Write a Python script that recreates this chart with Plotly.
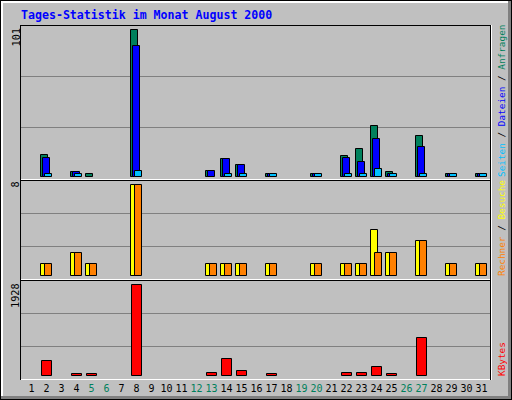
import plotly.graph_objects as go

# ---------------- data ----------------
days = list(range(1, 32))
weekend_days = [5, 6, 12, 13, 19, 20, 26, 27]

hits   = [None, 15, None, 3, 2, None, None, 101, None, None, None, None, 4, 12, 8, None,
          2, None, None, 2, None, 14, 19, 35, 3, None, 28, None, 2, None, 2]
files  = [None, 13, None, 3, None, None, None, 90, None, None, None, None, 4, 12, 8, None,
          2, None, None, 2, None, 13, 10, 26, 2, None, 20, None, 2, None, 2]
pages  = [None, 2, None, 2, None, None, None, 4, None, None, None, None, None, 2, 2, None,
          2, None, None, 2, None, 2, 2, 5, 2, None, 2, None, 2, None, 2]
visits = [None, 1, None, 2, 1, None, None, 8, None, None, None, None, 1, 1, 1, None,
          1, None, None, 1, None, 1, 1, 4, 2, None, 3, None, 1, None, 1]
sites  = [None, 1, None, 2, 1, None, None, 8, None, None, None, None, 1, 1, 1, None,
          1, None, None, 1, None, 1, 1, 2, 2, None, 3, None, 1, None, 1]
kbytes = [None, 310, None, 30, 30, None, None, 1928, None, None, None, None, 53, 350, 95, None,
          30, None, None, None, None, 53, 53, 180, 30, None, 795, None, None, None, None]

title_text = "Tages-Statistik im Monat August 2000"
max_hits_label = "101"
max_visits_label = "8"
max_kbytes_label = "1928"

# ---------------- helpers (pixel -> paper) ----------------
W, H = 512, 400
def px(x):
    return x / W
def py(y):
    return 1 - y / H

C_HITS, C_FILES, C_PAGES = "#00805C", "#0000FF", "#00C0FF"
C_VISITS, C_SITES, C_KB = "#FFFF00", "#FF8000", "#FF0000"
BG = "#C0C0C0"
GRID = "#808080"
MONO = "DejaVu Sans Mono"

DAY = 15.0  # pixels per day

def bar(vals, color, yaxis, off_px, w_px, name):
    return go.Bar(
        x=days, y=vals, name=name, yaxis=yaxis, xaxis="x",
        offset=off_px / DAY, width=w_px / DAY,
        marker=dict(color=color, line=dict(color="black", width=1)),
        showlegend=False, hoverinfo="x+y",
    )

fig = go.Figure()
fig.add_trace(bar(hits, C_HITS, "y", -6, 7, "Anfragen"))
fig.add_trace(bar(files, C_FILES, "y", -4, 7, "Dateien"))
fig.add_trace(bar(pages, C_PAGES, "y", -2, 7, "Seiten"))
fig.add_trace(bar(visits, C_VISITS, "y2", -6, 7, "Besuche"))
fig.add_trace(bar(sites, C_SITES, "y2", -2, 7, "Rechner"))
fig.add_trace(bar(kbytes, C_KB, "y3", -5, 10, "KBytes"))

ticktext = [
    (f'<span style="color:{C_HITS}">{d}</span>' if d in weekend_days else str(d))
    for d in days
]

x_lo = 1 + (20 - 31.5) / DAY
x_hi = 1 + (491 - 31.5) / DAY

def yax(domain, rng, grid):
    return dict(
        domain=domain, range=rng, tickvals=grid, showticklabels=False,
        showgrid=True, gridcolor=GRID, gridwidth=1, zeroline=False,
        showline=False, ticks="", fixedrange=True,
    )

shapes = []
def hline(y, x0, x1, color):
    shapes.append(dict(type="line", xref="paper", yref="paper",
                       x0=px(x0), x1=px(x1), y0=py(y), y1=py(y),
                       line=dict(color=color, width=1), layer="above"))
def vline(x, y0, y1, color):
    shapes.append(dict(type="line", xref="paper", yref="paper",
                       x0=px(x), x1=px(x), y0=py(y0), y1=py(y1),
                       line=dict(color=color, width=1), layer="above"))
def band(x0, y0, x1, y1, color):
    shapes.append(dict(type="rect", xref="paper", yref="paper",
                       x0=px(x0), x1=px(x1), y0=py(y1), y1=py(y0),
                       fillcolor=color, line=dict(width=0), layer="above"))

# outer 3D frame
band(0, 0, 512, 3, "white")
band(0, 0, 3, 400, "white")
band(508, 0, 512, 400, GRID)
band(0, 396, 512, 400, GRID)
hline(0.5, 0, 512, "black")
vline(0.5, 0, 400, "black")
hline(399.5, 0, 512, "black")
vline(511.5, 0, 400, "black")

# panel borders
for top, bot in [(25, 179), (180, 279), (280, 379)]:
    hline(top + 0.5, 20, 491, "black")
    hline(bot + 0.5, 20, 492, "white")
vline(20.5, 25, 380, "black")
vline(490.5, 25, 380, "black")
vline(491.5, 25, 380, "white")

annotations = [
    dict(text=f"<b>{title_text}</b>", x=px(19), y=py(15), xref="paper", yref="paper",
         xanchor="left", yanchor="middle", showarrow=False,
         font=dict(family=MONO, size=11.6, color="#0000FF")),
    dict(text=max_hits_label, x=px(15.5), y=py(27), xref="paper", yref="paper",
         xanchor="center", yanchor="top", textangle=-90, showarrow=False,
         font=dict(family=MONO, size=10.2, color="black")),
    dict(text=max_visits_label, x=px(15.5), y=py(180), xref="paper", yref="paper",
         xanchor="center", yanchor="top", textangle=-90, showarrow=False,
         font=dict(family=MONO, size=10.2, color="black")),
    dict(text=max_kbytes_label, x=px(15.5), y=py(281), xref="paper", yref="paper",
         xanchor="center", yanchor="top", textangle=-90, showarrow=False,
         font=dict(family=MONO, size=10.2, color="black")),
    dict(text=(f'<span style="color:{C_PAGES}">Seiten</span> / '
               f'<span style="color:{C_FILES}">Dateien</span> / '
               f'<span style="color:{C_HITS}">Anfragen</span>'),
         x=px(501), y=py(179), xref="paper", yref="paper",
         xanchor="center", yanchor="bottom", textangle=-90, showarrow=False,
         font=dict(family=MONO, size=9.4, color="black")),
    dict(text=(f'<span style="color:{C_SITES}">Rechner</span> / '
               f'<span style="color:{C_VISITS}">Besuche</span>'),
         x=px(501), y=py(278), xref="paper", yref="paper",
         xanchor="center", yanchor="bottom", textangle=-90, showarrow=False,
         font=dict(family=MONO, size=9.4, color="black")),
    dict(text=f'<span style="color:{C_KB}">KBytes</span>',
         x=px(501), y=py(378), xref="paper", yref="paper",
         xanchor="center", yanchor="bottom", textangle=-90, showarrow=False,
         font=dict(family=MONO, size=9.4, color="black")),
]

fig.update_layout(
    width=W, height=H, autosize=False,
    margin=dict(l=0, r=0, t=0, b=0, pad=0),
    paper_bgcolor=BG, plot_bgcolor=BG,
    barmode="overlay", bargap=0,
    showlegend=False,
    xaxis=dict(domain=[px(20), px(491)], range=[x_lo, x_hi], anchor="y3",
               tickvals=days, ticktext=ticktext, tickangle=0,
               tickfont=dict(family=MONO, size=10, color="black"),
               ticklabelstandoff=2,
               showgrid=False, zeroline=False, showline=False, ticks="",
               fixedrange=True),
    yaxis=yax([py(180), py(25)], [-2.405, 104.1], [33.67, 68.71]),
    yaxis2=yax([py(280), py(180)], [-0.3956, 8.396], [2.549, 5.451]),
    yaxis3=yax([py(379), py(280)], [-74.2, 2023.4], [625, 1313.6]),
    shapes=shapes,
    annotations=annotations,
)
fig.update_yaxes(anchor="x")

fig.write_html("out.html", config={"displayModeBar": False},
               post_script="document.body.style.margin='0';")
